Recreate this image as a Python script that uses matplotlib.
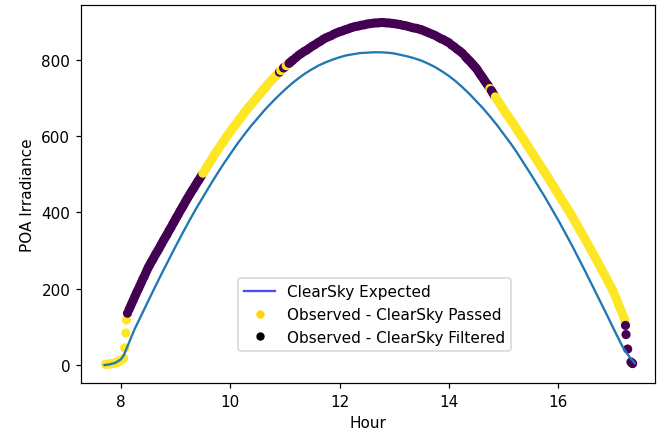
import matplotlib
matplotlib.use("Agg")
import matplotlib.pyplot as plt
from matplotlib.lines import Line2D
import numpy as np

# expected clear-sky POA (line)
exp_hour = [7.70, 7.80, 7.90, 8.00, 8.05, 8.10, 8.175, 8.25, 8.375, 8.50,
            8.625, 8.75, 8.875, 9.00, 9.125, 9.25, 9.375, 9.50, 9.625, 9.75,
            9.875, 10.00, 10.125, 10.25, 10.375, 10.50, 10.625, 10.75, 10.875, 11.00,
            11.125, 11.25, 11.375, 11.50, 11.625, 11.75, 11.875, 12.00, 12.125, 12.25,
            12.375, 12.50, 12.625, 12.75, 12.875, 13.00, 13.125, 13.25, 13.375, 13.50,
            13.625, 13.75, 13.875, 14.00, 14.125, 14.25, 14.375, 14.50, 14.625, 14.75,
            14.875, 15.00, 15.125, 15.25, 15.375, 15.50, 15.625, 15.75, 15.875, 16.00,
            16.125, 16.25, 16.375, 16.50, 16.625, 16.75, 16.875, 17.00, 17.10, 17.20,
            17.30, 17.40]
exp_poa = [0, 2, 6, 15, 25, 42, 68, 94, 131, 168,
           205, 241, 276, 311, 345, 378, 410, 440, 470, 499,
           527, 553, 579, 603, 626, 647, 668, 687, 705, 722,
           738, 752, 765, 776, 786, 794, 801, 807, 812, 815,
           818, 819, 820, 820, 819, 817, 813, 809, 804, 798,
           790, 781, 770, 758, 744, 728, 711, 692, 673, 652,
           630, 606, 582, 556, 528, 500, 471, 442, 411, 380,
           347, 314, 279, 244, 208, 172, 136, 99, 70, 42,
           22, 5]

# observed POA (scatter)
obs_hour = [7.72, 7.75, 7.78, 7.81, 7.84, 7.87, 7.90, 7.93, 7.96, 7.99,
            8.02, 8.05, 8.07, 8.09, 8.10, 8.12,
            8.15, 8.175, 8.20, 8.225, 8.25, 8.275, 8.30, 8.325, 8.35, 8.375,
            8.40, 8.425, 8.45, 8.475, 8.50, 8.525, 8.55, 8.575, 8.60, 8.625,
            8.65, 8.675, 8.70, 8.725, 8.75, 8.775, 8.80, 8.825, 8.85, 8.875,
            8.90, 8.925, 8.95, 8.975, 9.00, 9.025, 9.05, 9.075, 9.10, 9.125,
            9.15, 9.175, 9.20, 9.225, 9.25, 9.275, 9.30, 9.325, 9.35, 9.375,
            9.40, 9.425, 9.45, 9.475, 9.50, 9.525, 9.55, 9.575, 9.60, 9.625,
            9.65, 9.675, 9.70, 9.725, 9.75, 9.775, 9.80, 9.825, 9.85, 9.875,
            9.90, 9.925, 9.95, 9.975, 10.00, 10.025, 10.05, 10.075, 10.10, 10.125,
            10.15, 10.175, 10.20, 10.225, 10.25, 10.275, 10.30, 10.325, 10.35, 10.375,
            10.40, 10.425, 10.45, 10.475, 10.50,
            10.525, 10.55, 10.575, 10.60, 10.625, 10.65, 10.675, 10.70, 10.725, 10.75,
            10.775, 10.80, 10.825, 10.85, 10.875, 10.90, 10.925, 10.95, 10.975, 11.00,
            11.025, 11.05, 11.075, 11.10, 11.125,
            11.15, 11.20, 11.25, 11.30, 11.35, 11.40, 11.45, 11.50, 11.55, 11.60,
            11.65, 11.70, 11.75, 11.80, 11.85, 11.90, 11.95, 12.00, 12.05, 12.10,
            12.15, 12.20, 12.25, 12.30, 12.35, 12.40, 12.45, 12.50, 12.55, 12.60,
            12.65, 12.70, 12.75, 12.80, 12.85, 12.90, 12.95, 13.00, 13.05, 13.10,
            13.15, 13.20, 13.25, 13.30, 13.35, 13.40, 13.45, 13.50, 13.55, 13.60,
            13.65, 13.70, 13.75, 13.80, 13.85, 13.90, 13.95, 14.00, 14.05, 14.10,
            14.15, 14.20, 14.25, 14.30,
            14.325, 14.35, 14.375, 14.40, 14.425, 14.45, 14.475, 14.50, 14.525, 14.55,
            14.575, 14.60, 14.625, 14.65, 14.675, 14.70, 14.725, 14.75, 14.775,
            14.80, 14.825, 14.85, 14.875, 14.90, 14.925, 14.95, 14.975, 15.00, 15.025,
            15.05, 15.075, 15.10, 15.125, 15.15, 15.175, 15.20, 15.225, 15.25, 15.275,
            15.30, 15.325, 15.35, 15.375, 15.40, 15.425, 15.45, 15.475, 15.50, 15.525,
            15.55, 15.575, 15.60, 15.625, 15.65, 15.675, 15.70, 15.725, 15.75, 15.775,
            15.80, 15.825, 15.85, 15.875, 15.90, 15.925, 15.95, 15.975, 16.00, 16.025,
            16.05, 16.075, 16.10, 16.125, 16.15, 16.175, 16.20, 16.225, 16.25, 16.275,
            16.30, 16.325, 16.35, 16.375, 16.40, 16.425, 16.45, 16.475, 16.50, 16.525,
            16.55, 16.575, 16.60, 16.625, 16.65, 16.675, 16.70, 16.725, 16.75, 16.775,
            16.80, 16.825, 16.85, 16.875, 16.90, 16.925, 16.95, 16.975, 17.00, 17.025,
            17.05, 17.075, 17.10, 17.125, 17.15, 17.175, 17.20,
            17.22, 17.23, 17.24, 17.27, 17.33, 17.35, 17.36]
obs_poa = [2, 2, 3, 3, 4, 5, 6, 7, 9, 11,
           14, 18, 45, 84, 118, 136,
           146, 154, 162, 170, 178, 186, 194, 201, 209, 217,
           225, 232, 240, 248, 256, 262, 269, 275, 281, 288,
           294, 300, 306, 313, 319, 326, 332, 338, 344, 351,
           357, 363, 370, 376, 383, 389, 395, 402, 408, 414,
           420, 427, 433, 439, 445, 451, 457, 462, 468, 474,
           480, 485, 491, 497, 503, 508, 514, 520, 526, 531,
           537, 543, 549, 555, 560, 565, 570, 576, 581, 586,
           591, 597, 602, 607, 612, 617, 622, 626, 631, 636,
           641, 645, 650, 655, 660, 665, 669, 674, 678, 682,
           686, 691, 695, 700, 704,
           708, 712, 717, 721, 725, 729, 734, 738, 742, 746,
           750, 753, 757, 760, 764, 768, 772, 775, 779, 782,
           785, 788, 791, 794, 797,
           800, 806, 812, 817, 822, 826, 831, 836, 840, 845,
           849, 854, 858, 861, 864, 868, 871, 874, 876, 879,
           881, 884, 886, 888, 889, 891, 892, 894, 895, 896,
           897, 897, 898, 898, 897, 897, 896, 895, 894, 893,
           891, 890, 888, 886, 884, 883, 881, 879, 876, 873,
           870, 867, 864, 860, 856, 853, 849, 845, 839, 834,
           828, 823, 817, 809,
           805, 801, 798, 794, 790, 786, 782, 778, 773, 767,
           762, 757, 752, 746, 741, 736, 731, 725, 720,
           714, 708, 703, 697, 692, 686, 681, 675, 670, 664,
           659, 654, 649, 643, 638, 633, 628, 622, 617, 611,
           606, 600, 595, 589, 584, 578, 573, 567, 562, 556,
           551, 545, 540, 534, 528, 522, 517, 511, 506, 500,
           495, 489, 483, 477, 472, 466, 460, 454, 449, 443,
           437, 431, 426, 420, 414, 408, 403, 397, 391, 384,
           378, 372, 366, 359, 353, 347, 341, 334, 328, 321,
           315, 308, 302, 295, 289, 282, 276, 269, 263, 256,
           249, 242, 236, 229, 222, 215, 209, 202, 195, 186,
           178, 169, 160, 151, 143, 134, 125,
           118, 104, 80, 42, 8, 5, 4]

# time windows where the clear-sky check filtered the observations
filtered_windows = [(8.115, 9.49), (10.89, 10.91), (10.97, 11.01),
                    (11.07, 14.74), (14.76, 14.83), (17.225, 17.5)]

assert len(obs_hour) == len(obs_poa)
hours = np.array(obs_hour)
passed = np.ones(len(hours))
for lo, hi in filtered_windows:
    passed[(hours > lo) & (hours < hi)] = 0

fig = plt.figure(figsize=(657 / 110, 441 / 110), dpi=110)
ax = fig.add_axes([81 / 657, 57 / 441, 574 / 657, 378 / 441])

ax.plot(exp_hour, exp_poa, color='C0')
ax.scatter(obs_hour, obs_poa, c=passed, cmap='viridis', s=36, linewidths=0)

ax.set_xlim(7.27, 17.77)
ax.set_ylim(-47, 944)
ax.set_xlabel("Hour")
ax.set_ylabel("POA Irradiance")

handles = [
    Line2D([0], [0], color='blue', alpha=0.7, lw=1.5, label='ClearSky Expected'),
    Line2D([0], [0], marker='o', color='w', markerfacecolor='gold', markersize=6.5,
           label='Observed - ClearSky Passed'),
    Line2D([0], [0], marker='o', color='w', markerfacecolor='black', markersize=6.5,
           label='Observed - ClearSky Filtered'),
]
ax.legend(handles=handles, loc='lower center', bbox_to_anchor=(0.512, 0.065))

fig.savefig("out.png", dpi=110)
